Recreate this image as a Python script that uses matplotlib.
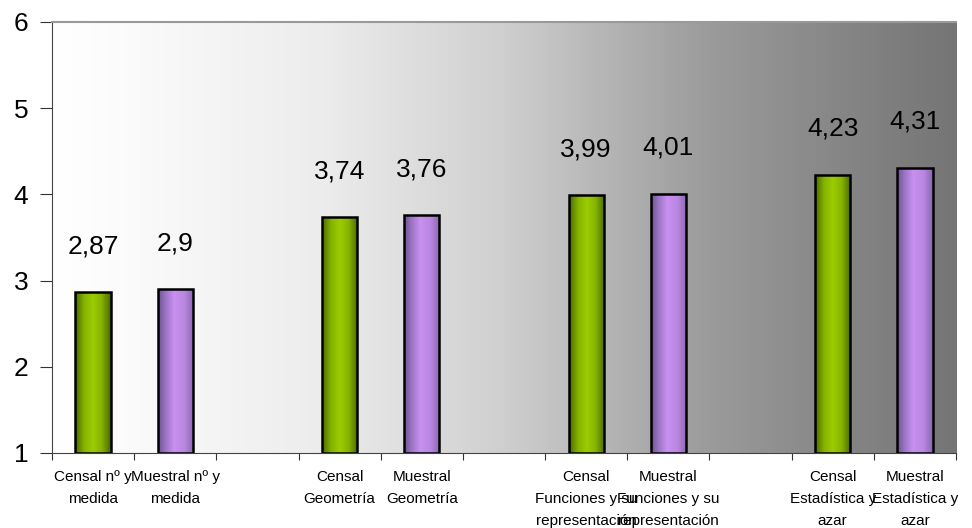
import numpy as np
import matplotlib
matplotlib.use("Agg")
import matplotlib.pyplot as plt
from matplotlib.colors import LinearSegmentedColormap

plt.rcParams['font.family'] = ['Liberation Sans', 'DejaVu Sans']

categories = [
    "Censal nº y\nmedida", "Muestral nº y\nmedida", "",
    "Censal\nGeometría", "Muestral\nGeometría", "",
    "Censal\nFunciones y su\nrepresentación", "Muestral\nFunciones y su\nrepresentación", "",
    "Censal\nEstadística y\nazar", "Muestral\nEstadística y\nazar",
]
values = [2.87, 2.9, None, 3.74, 3.76, None, 3.99, 4.01, None, 4.23, 4.31]
value_labels = ["2,87", "2,9", "", "3,74", "3,76", "", "3,99", "4,01", "", "4,23", "4,31"]
kinds = ["c", "m", None, "c", "m", None, "c", "m", None, "c", "m"]

fig = plt.figure(figsize=(9.72, 5.28), dpi=100)
ax = fig.add_axes([52/972, 1 - 453/528, (956-52)/972, (453-22)/528])
n = len(categories)
ax.set_xlim(0, n)
ax.set_ylim(1, 6)

# background gradient: white on the left fading to gray on the right
bg = LinearSegmentedColormap.from_list(
    "bg", [(0, "#ffffff"), (0.08, "#fbfbfb"), (0.3, "#ececec"), (0.5, "#cfcfcf"),
           (0.72, "#9c9c9c"), (0.88, "#858585"), (1, "#757575")])
ax.imshow(np.linspace(0, 1, 256)[None, :], cmap=bg, aspect="auto",
          extent=[0, n, 1, 6], zorder=0)

green = LinearSegmentedColormap.from_list(
    "g", [(0, "#4a6a00"), (0.25, "#86b300"), (0.5, "#9ccc00"), (0.75, "#86b300"), (1, "#4a6a00")])
purple = LinearSegmentedColormap.from_list(
    "p", [(0, "#6e5290"), (0.2, "#9a74c4"), (0.45, "#c890f0"), (0.75, "#b886e0"), (1, "#8a68b0")])

w = 0.43
for i, (v, lab, k) in enumerate(zip(values, value_labels, kinds)):
    if v is None:
        continue
    x = i + 0.5
    bars = ax.bar(x, v - 1, bottom=1, width=w, facecolor="none",
                  edgecolor="black", linewidth=1.8, zorder=3)
    rect = bars[0]
    im = ax.imshow(np.linspace(0, 1, 64)[None, :], cmap=green if k == "c" else purple,
                   aspect="auto", extent=[x - w/2, x + w/2, 1, v], zorder=2)
    im.set_clip_path(rect)
    ax.text(x, v + 0.53, lab, ha="center", va="center", fontsize=19, zorder=4)

ax.set_xticks(np.arange(0, n + 1))
ax.set_xticklabels([])
ax.set_xticks(np.arange(n) + 0.5, minor=True)
ax.set_xticklabels(categories, minor=True, fontsize=11, linespacing=1.75)
ax.tick_params(axis="x", which="minor", length=0, pad=12)
ax.tick_params(axis="x", which="major", direction="out", length=5, color="#333333")
ax.set_yticks([1, 2, 3, 4, 5, 6])
ax.set_yticklabels(["1", "2", "3", "4", "5", "6"], fontsize=19)
ax.tick_params(axis="y", direction="out", length=9, color="#333333", pad=8)

ax.spines["right"].set_visible(False)
ax.spines["top"].set_color("#999999")
ax.spines["top"].set_linewidth(1.5)
ax.spines["left"].set_color("#444444")
ax.spines["bottom"].set_color("#444444")

fig.savefig("out.png", dpi=100)
